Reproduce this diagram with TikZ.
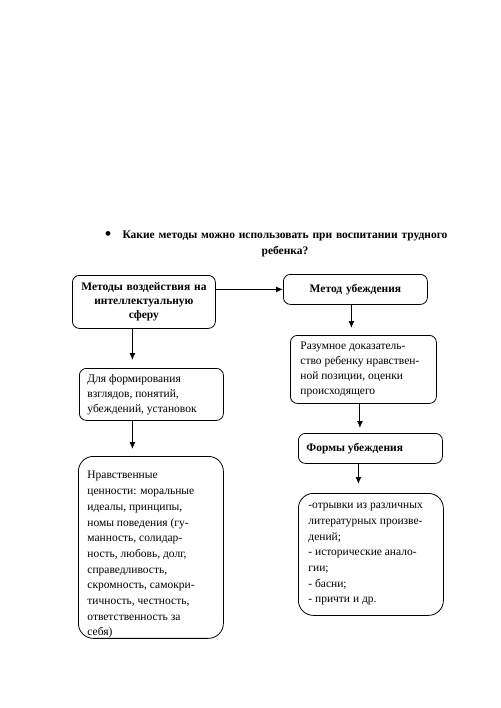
\documentclass[tikz,border=0pt]{standalone}
\usepackage{fontspec}
\setmainfont{Liberation Serif}
\usetikzlibrary{arrows.meta,calc}
\tikzset{
  box/.style={draw, line width=0.8pt, rounded corners=7pt, anchor=north west, inner xsep=8pt, inner ysep=2pt, font=\fontsize{11.5}{15}\selectfont},
  bigbox/.style={box, rounded corners=15pt, inner ysep=0pt, font=\fontsize{11.5}{15.7}\selectfont},
  arr/.style={-{Latex[length=7pt,width=6pt]}, line width=1pt},
  head/.style={font=\bfseries\fontsize{11.5}{16}\selectfont, align=center}
}
\begin{document}
\begin{tikzpicture}[x=1pt,y=-1pt]
\useasboundingbox (0,0) rectangle (500,708);
% header
\node[inner sep=0pt] (bul) at (108,235.5) {\fontsize{20}{20}\selectfont\textbullet};
\node[head, text width=340pt] (q) at (285,243.5) {Какие методы можно использовать при воспитании трудного\\ребенка?};
% boxes
\node[box, minimum width=143pt, minimum height=53pt, text width=127pt, align=center, font=\bfseries\fontsize{11.5}{14}\selectfont] (m1) at (72,275) {Методы воздействия на интеллектуальную сферу};
\node[box, minimum width=144pt, minimum height=30pt, text width=128pt, align=center, font=\bfseries\fontsize{11.5}{14}\selectfont] (m2) at (283,274) {Метод убеждения};
\node[box, minimum width=145pt, minimum height=68pt, text width=126pt, inner xsep=10pt, align=flush left] (r1) at (290,335) {Разумное доказатель-\\ство ребенку нравствен-\\ной позиции, оценки\\происходящего};
\node[box, minimum width=144pt, minimum height=52pt, text width=128pt, align=flush left] (l1) at (79,368) {Для формирования\\взглядов, понятий,\\убеждений, установок};
\node[bigbox, minimum width=145pt, minimum height=167pt, text width=127pt, inner xsep=9pt, align=flush left] (l2) at (78,456) {\rule{0pt}{22.5pt}Нравственные\\ценности: моральные\\идеалы, принципы,\\номы поведения (гу-\\манность, солидар-\\ность, любовь, долг,\\справедливость,\\скромность, самокри-\\тичность, честность,\\ответственность за\\себя)};
\node[box, minimum width=144pt, minimum height=30pt, text width=128pt, align=flush left, font=\bfseries\fontsize{11.5}{14}\selectfont] (r2) at (298,433) {Формы убеждения};
\node[bigbox, minimum width=145pt, minimum height=122pt, text width=125pt, inner xsep=10pt, inner ysep=2pt, align=flush left] (r3) at (298,493) {-отрывки из различных\\литературных произве-\\дений;\\- исторические анало-\\гии;\\- басни;\\- причти и др.};
% connectors
\draw[arr] (m1.east |- m2.west) -- (m2.west);
\draw[arr, shorten >=7pt] ([xshift=-4pt]m2.south) -- ([xshift=-4pt]m2.south |- r1.north);
\draw[arr, shorten >=8pt] ([xshift=-11.5pt]m1.south) -- ([xshift=-11.5pt]m1.south |- l1.north);
\draw[arr, shorten >=7pt] ([xshift=-19pt]l1.south) -- ([xshift=-19pt]l1.south |- l2.north);
\draw[arr, shorten >=5pt] ([xshift=-3.5pt]r1.south) -- ([xshift=-3.5pt]r1.south |- r2.north);
\draw[arr, shorten >=9pt] ([xshift=-12pt]r2.south) -- ([xshift=-12pt]r2.south |- r3.north);
\end{tikzpicture}
\end{document}
